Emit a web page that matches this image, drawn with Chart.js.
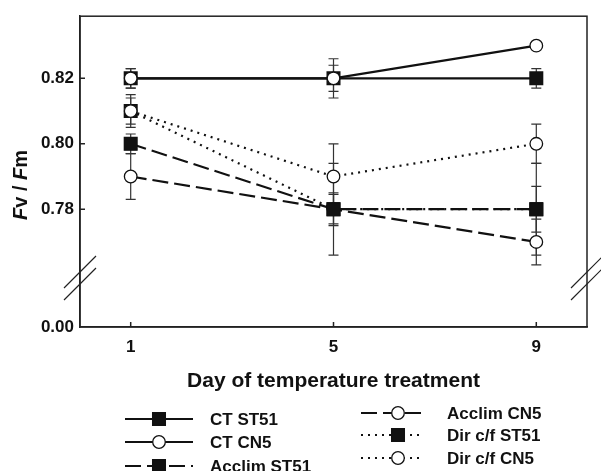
<!DOCTYPE html>
<html>
<head>
<meta charset="utf-8">
<script src="https://cdn.jsdelivr.net/npm/chart.js@4.4.1/dist/chart.umd.min.js"></script>
<style>
  html, body { margin: 0; padding: 0; background: #fff; }
</style>
</head>
<body>
<canvas id="chart" width="601" height="471"></canvas>
<script>
// values
const days = [1, 5, 9];
const xTicks = [1, 5, 9];
const yTicks = [0.78, 0.80, 0.82];
const yBreakLabel = '0.00';

const ctST51 = [0.82, 0.82, 0.82];
const ctCN5 = [0.82, 0.82, 0.83];
const acclimST51 = [0.80, 0.78, 0.78];
const acclimCN5 = [0.79, 0.78, 0.77];
const dirST51 = [0.81, 0.78, 0.78];
const dirCN5 = [0.81, 0.79, 0.80];

const ctST51Err = [0.003, 0.004, 0.003];
const ctCN5Err = [0.003, 0.006, 0];
const acclimST51Err = [0.003, 0.0045, 0.007];
const acclimCN5Err = [0.007, 0.005, 0.007];
const dirST51Err = [0.004, 0.014, 0.014];
const dirCN5Err = [0.005, 0.010, 0.006];

const FONT = "'Liberation Sans', Arial, sans-serif";
const SOLID = [];
const DASH = [16, 6];
const DOT = [2, 5];

function series(label, values, errs, filled, dash, idx) {
  return {
    label: label,
    data: values.map((v, i) => ({ x: days[i], y: v })),
    errs: errs,
    borderColor: '#111',
    borderWidth: 2.2,
    borderDash: dash,
    fill: false,
    tension: 0,
    pointStyle: filled ? 'rect' : 'circle',
    pointRadius: filled ? 9 : 6.3,
    pointHoverRadius: filled ? 9 : 6.3,
    pointBackgroundColor: filled ? '#111' : '#fff',
    pointBorderColor: '#111',
    pointBorderWidth: 1.3,
    order: -idx   // later series drawn on top
  };
}

const datasets = [
  series('CT ST51', ctST51, ctST51Err, true, SOLID, 0),
  series('CT CN5', ctCN5, ctCN5Err, false, SOLID, 1),
  series('Acclim ST51', acclimST51, acclimST51Err, true, DASH, 2),
  series('Acclim CN5', acclimCN5, acclimCN5Err, false, DASH, 3),
  series('Dir c/f ST51', dirST51, dirST51Err, true, DOT, 4),
  series('Dir c/f CN5', dirCN5, dirCN5Err, false, DOT, 5)
];

// legend slots: left column then right column
const legendSlots = [
  { x0: 125, x1: 193, xm: 159, xt: 210, y: 419 },
  { x0: 125, x1: 193, xm: 159, xt: 210, y: 442 },
  { x0: 125, x1: 193, xm: 159, xt: 210, y: 466 },
  { x0: 361, x1: 423, xm: 398, xt: 447, y: 413 },
  { x0: 361, x1: 423, xm: 398, xt: 447, y: 435 },
  { x0: 361, x1: 423, xm: 398, xt: 447, y: 458 }
];

function drawMarker(ctx, ds, x, y) {
  ctx.save();
  ctx.setLineDash([]);
  ctx.lineWidth = ds.pointBorderWidth;
  ctx.strokeStyle = ds.pointBorderColor;
  ctx.fillStyle = ds.pointBackgroundColor;
  ctx.beginPath();
  if (ds.pointStyle === 'rect') {
    const s = ds.pointRadius * Math.SQRT1_2;
    ctx.rect(x - s, y - s, 2 * s, 2 * s);
  } else {
    ctx.arc(x, y, ds.pointRadius, 0, Math.PI * 2);
  }
  ctx.fill();
  ctx.stroke();
  ctx.restore();
}

const extras = {
  id: 'extras',
  beforeDatasetsDraw(chart) {
    const ctx = chart.ctx;
    const xs = chart.scales.x, ys = chart.scales.y;
    ctx.save();
    ctx.strokeStyle = '#333';
    ctx.lineWidth = 1.2;
    chart.data.datasets.forEach(ds => {
      ds.data.forEach((p, i) => {
        const e = ds.errs[i];
        if (!e) return;
        const x = xs.getPixelForValue(p.x);
        const yt = ys.getPixelForValue(p.y + e);
        const yb = ys.getPixelForValue(p.y - e);
        ctx.beginPath();
        ctx.moveTo(x, yt); ctx.lineTo(x, yb);
        ctx.moveTo(x - 5, yt); ctx.lineTo(x + 5, yt);
        ctx.moveTo(x - 5, yb); ctx.lineTo(x + 5, yb);
        ctx.stroke();
      });
    });
    ctx.restore();
  },
  afterDraw(chart) {
    const ctx = chart.ctx;
    const a = chart.chartArea;
    const xs = chart.scales.x, ys = chart.scales.y;
    ctx.save();
    ctx.strokeStyle = '#222';
    ctx.lineWidth = 1.5;
    // frame
    ctx.strokeRect(a.left, a.top, a.right - a.left, a.bottom - a.top);
    // inside tick marks
    ctx.beginPath();
    yTicks.forEach(v => {
      const y = ys.getPixelForValue(v);
      ctx.moveTo(a.left, y); ctx.lineTo(a.left + 5, y);
    });
    xTicks.forEach(v => {
      const x = xs.getPixelForValue(v);
      ctx.moveTo(x, a.bottom); ctx.lineTo(x, a.bottom - 5);
    });
    ctx.stroke();
    // axis break marks
    ctx.lineWidth = 1.2;
    ctx.beginPath();
    [a.left, a.right].forEach(x => {
      [272, 284].forEach(y => {
        ctx.moveTo(x - 16, y + 16); ctx.lineTo(x + 16, y - 16);
      });
    });
    ctx.stroke();

    // x title
    ctx.fillStyle = '#111';
    ctx.font = 'bold 21px ' + FONT;
    ctx.textAlign = 'center';
    ctx.textBaseline = 'alphabetic';
    ctx.fillText('Day of temperature treatment', xs.getPixelForValue(5), 387);

    // y title: Fv / Fm with italic F
    const parts = [['F', true], ['v', false], [' / ', false], ['F', true], ['m', false]];
    ctx.save();
    ctx.translate(21, 185);
    ctx.rotate(-Math.PI / 2);
    let w = 0;
    parts.forEach(p => {
      ctx.font = (p[1] ? 'italic ' : '') + 'bold 20px ' + FONT;
      w += ctx.measureText(p[0]).width;
    });
    let cx = -w / 2;
    ctx.textAlign = 'left';
    ctx.textBaseline = 'middle';
    parts.forEach(p => {
      ctx.font = (p[1] ? 'italic ' : '') + 'bold 20px ' + FONT;
      ctx.fillText(p[0], cx, 0);
      cx += ctx.measureText(p[0]).width;
    });
    ctx.restore();

    // legend
    chart.data.datasets.forEach((ds, i) => {
      const s = legendSlots[i];
      ctx.save();
      ctx.strokeStyle = ds.borderColor;
      ctx.lineWidth = ds.borderWidth;
      ctx.setLineDash(ds.borderDash);
      ctx.beginPath();
      ctx.moveTo(s.x0, s.y); ctx.lineTo(s.x1, s.y);
      ctx.stroke();
      ctx.restore();
      drawMarker(ctx, ds, s.xm, s.y);
      ctx.fillStyle = '#111';
      ctx.font = 'bold 17px ' + FONT;
      ctx.textAlign = 'left';
      ctx.textBaseline = 'middle';
      ctx.fillText(ds.label, s.xt, s.y + 1);
    });
    ctx.restore();
  }
};

const yMin = 0.744, yMax = 0.839;

new Chart(document.getElementById('chart'), {
  type: 'line',
  data: { datasets: datasets },
  options: {
    responsive: false,
    animation: false,
    events: [],
    layout: { padding: { top: 10, right: 14, left: 0, bottom: 0 } },
    plugins: { legend: { display: false }, tooltip: { enabled: false } },
    scales: {
      x: {
        type: 'linear',
        min: 0,
        max: 10,
        afterBuildTicks: scale => { scale.ticks = xTicks.map(v => ({ value: v })); },
        afterFit: scale => { scale.height = 144; },
        grid: { display: false, drawTicks: false },
        border: { display: true, color: '#222', width: 1.5 },
        ticks: {
          padding: 10,
          color: '#111',
          font: { family: FONT, size: 17, weight: 'bold' },
          maxRotation: 0,
          callback: v => String(v)
        }
      },
      y: {
        type: 'linear',
        min: yMin,
        max: yMax,
        afterBuildTicks: scale => {
          scale.ticks = [{ value: yMin }].concat(yTicks.map(v => ({ value: v })));
        },
        afterFit: scale => { scale.width = 80; },
        grid: { display: false, drawTicks: false },
        border: { display: true, color: '#222', width: 1.5 },
        ticks: {
          padding: 6,
          color: '#111',
          font: { family: FONT, size: 17, weight: 'bold' },
          callback: v => (Math.abs(v - yMin) < 1e-9 ? yBreakLabel : v.toFixed(2))
        }
      }
    }
  },
  plugins: [extras]
});
</script>
</body>
</html>
